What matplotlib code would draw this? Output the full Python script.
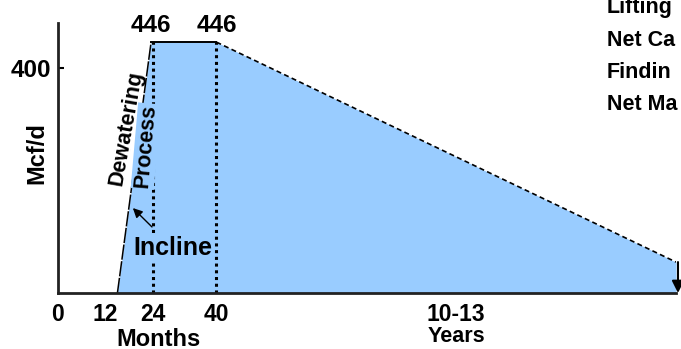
import matplotlib
matplotlib.use("Agg")
import matplotlib.pyplot as plt

plt.rcParams['font.family'] = ['Liberation Sans', 'DejaVu Sans']
plt.rcParams['font.weight'] = 'bold'

# Data (months since start, gas rate in Mcf/d)
months = [15, 23.5, 40, 156]
rate = [0, 446, 446, 55]
peak_labels = ["446", "446"]
peak_months = [23.5, 40]
xtick_vals = [0, 12, 24, 40, 100.5]
xtick_labels = ["0", "12", "24", "40", "10-13"]
ytick_vals = [400]
ytick_labels = ["400"]
side_texts = ["Lifting", "Net Ca", "Findin", "Net Ma"]

W, H = 681, 349
fig = plt.figure(figsize=(W / 100, H / 100), dpi=100)
ax = fig.add_axes([58 / W, (H - 293) / H, (676 - 58) / W, (293 - 23) / H])
ax.set_xlim(0, 156)
ax.set_ylim(0, 480)

fill_color = '#99CCFF'
ax.fill_between(months, rate, 0, color=fill_color, lw=0, zorder=1)
# outline
ax.plot(months[:2], rate[:2], color='black', lw=1.1, ls=(0, (10, 1)), zorder=3)
ax.plot(months[1:3], rate[1:3], color='black', lw=1.4, zorder=3)
ax.plot(months[2:], rate[2:], color='black', lw=1.2, ls=(0, (3, 2)), zorder=3)

# vertical dotted markers
for m in [24, 40]:
    ax.plot([m, m], [0, 446], color='black', lw=2.2, ls=(0, (1, 1.2)), zorder=2)

# peak labels
for m, lab in zip(peak_months, peak_labels):
    ax.annotate(lab, (m, 446), xytext=(0, 4), textcoords='offset points',
                ha='center', va='bottom', fontsize=17.5, fontweight='bold')

# annotations
ax.text(17.2, 293, "Dewatering", rotation=80, ha='center', va='center',
        fontsize=15.5, fontweight='bold', zorder=4)
ax.text(22.2, 261, "Process", rotation=85, ha='center', va='center',
        fontsize=15.5, fontweight='bold', zorder=4,
        bbox=dict(boxstyle='square,pad=0.05', fc=fill_color, ec='none'))
ax.annotate("Incline", xy=(18.9, 151), xytext=(29.1, 80), ha='center', va='center',
            fontsize=18, fontweight='bold', zorder=4,
            bbox=dict(boxstyle='square,pad=0.05', fc=fill_color, ec='none'),
            arrowprops=dict(arrowstyle='-|>', color='black', lw=1.0,
                            shrinkA=8, shrinkB=0, mutation_scale=14))
# end arrow
ax.annotate("", xy=(156.5, 0), xytext=(156.5, 55),
            arrowprops=dict(arrowstyle='-|>', color='black', lw=1.5,
                            shrinkA=0, shrinkB=0, mutation_scale=18),
            annotation_clip=False, zorder=5)

# axes styling
for s in ['top', 'right']:
    ax.spines[s].set_visible(False)
for s in ['left', 'bottom']:
    ax.spines[s].set_linewidth(2)
    ax.spines[s].set_color('#222222')
    ax.spines[s].set_zorder(6)

ax.set_yticks(ytick_vals)
ax.set_yticklabels(ytick_labels, fontsize=17.5, fontweight='bold')
ax.tick_params(axis='y', direction='in', length=4.5, width=1.5, pad=5)
ax.set_xticks(xtick_vals)
ax.set_xticklabels(xtick_labels, fontsize=16.5, fontweight='bold')
ax.tick_params(axis='x', length=0, pad=7.5)

def px(x, y):
    return x / W, 1 - y / H

fig.text(*px(159, 339), "Months", ha='center', va='center', fontsize=17, fontweight='bold')
fig.text(*px(456, 336), "Years", ha='center', va='center', fontsize=15.5, fontweight='bold')
fig.text(*px(37, 153), "Mcf/d", ha='center', va='center', rotation=90,
         fontsize=17, fontweight='bold')

for i, t in enumerate(side_texts):
    fig.text(*px(607, 8 + 32 * i), t, ha='left', va='center', fontsize=15.5,
             fontweight='bold')

fig.savefig("out.png", dpi=100)
